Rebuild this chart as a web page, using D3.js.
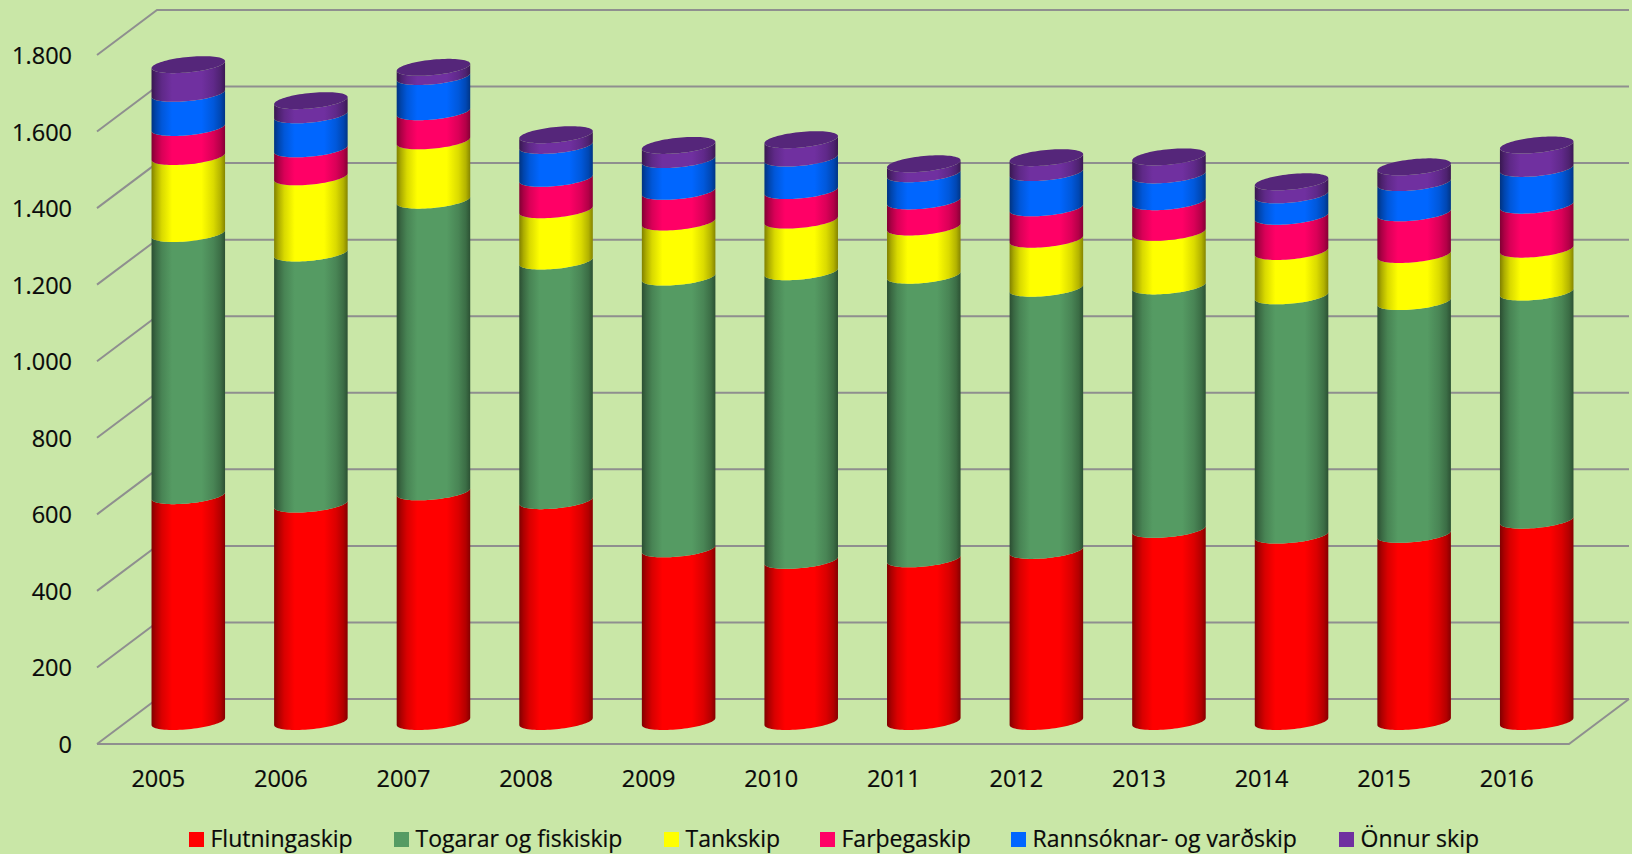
<!DOCTYPE html>
<html>
<head>
<meta charset="utf-8">
<script src="https://cdn.jsdelivr.net/npm/d3@7"></script>
<style>
html,body{margin:0;padding:0;background:#c9e7a7;overflow:hidden}
svg{display:block}
text{font-family:"Open Sans",sans-serif;fill:#0a0a0a;stroke:#0a0a0a;stroke-width:.2px}
</style>
</head>
<body>
<svg id="c" width="1632" height="854"></svg>
<script>
const years = ["2005","2006","2007","2008","2009","2010","2011","2012","2013","2014","2015","2016"];
const flutningaskip = [590,568,600,577,451,421,425,447,502,487,489,526];
const togarar = [685,656,762,626,710,754,741,685,636,625,608,596];
const tankskip = [201,199,155,134,144,135,126,128,140,116,123,112];
const farthegaskip = [76,73,76,82,80,77,68,82,80,92,109,115];
const rannsoknar = [89,89,92,86,83,85,71,92,70,56,79,96];
const onnur = [75,37,24,28,37,48,26,39,47,34,41,61];
const seriesNames = ["Flutningaskip","Togarar og fiskiskip","Tankskip","Farþegaskip","Rannsóknar- og varðskip","Önnur skip"];
const seriesValues = [flutningaskip,togarar,tankskip,farthegaskip,rannsoknar,onnur];
const seriesColors = ["#ff0000","#559b63","#ffff00","#ff0066","#0066ff","#7030a0"];
const topColor = "#55267a";
const yTicks = [0,200,400,600,800,1000,1200,1400,1600,1800];

const svg = d3.select("#c");
const gridColor = "#8f8f8f";
const depthX = 60, depthY = 45;
const yBack = d3.scaleLinear().domain([0,1800]).range([699,10]);
const x = d3.scaleBand().domain(years).range([97,1568]).paddingInner(0.4).paddingOuter(0.2);
const barShift = 30;

// shaded gradient per colour
const defs = svg.append("defs");
const shade = [[0,.5],[.06,.68],[.14,.85],[.28,1],[.68,1],[.84,.86],[.94,.7],[1,.52]];
seriesColors.forEach((c,i)=>{
  const g = defs.append("linearGradient").attr("id","g"+i);
  shade.forEach(([o,f])=>g.append("stop").attr("offset",o)
    .attr("stop-color",d3.interpolateRgb("#000",c)(f)));
});

// walls: grid lines with side wall diagonal
const gridG = svg.append("g").attr("fill","none").attr("stroke",gridColor).attr("stroke-width",2);
yTicks.forEach(v=>{
  gridG.append("path").attr("d",d3.line()([
    [x.range()[0],yBack(v)+depthY],
    [x.range()[0]+depthX,yBack(v)],
    [x.range()[1]+depthX+1,yBack(v)]
  ]));
});
gridG.append("path").attr("d",d3.line()([
  [x.range()[1]+depthX+1,yBack(0)],
  [x.range()[1]+1,yBack(0)+depthY],
  [x.range()[0],yBack(0)+depthY]
]));

// cylinders
const rx = x.bandwidth()/2, shear = 3.5, ry = 7.75, lowOffset = 31, lowFromCentre = 8.5;
const cY = v => yBack(v)+lowOffset-lowFromCentre;
const ang = d3.range(0,41).map(k=>k/40*Math.PI);
const frontArc = (cx,cy,dir) => {
  const pts = ang.map(t=>[cx+rx*Math.cos(t), cy+ry*Math.sin(t)-shear*Math.cos(t)]);
  return dir>0 ? pts : pts.slice().reverse();
};
const line = d3.line();
years.forEach((yr,i)=>{
  const cx = x(yr)+rx+barShift;
  const g = svg.append("g");
  let cum = 0;
  seriesValues.forEach((vals,s)=>{
    const v0 = cum, v1 = cum+vals[i];
    cum = v1;
    // lower arc right->left, then upper arc left->right
    const pts = frontArc(cx,cY(v0),1).concat(frontArc(cx,cY(v1),-1));
    g.append("path").attr("d",line(pts)+"Z").attr("fill",`url(#g${s})`);
  });
  const top = ang.map(t=>[cx+rx*Math.cos(t), cY(cum)+ry*Math.sin(t)-shear*Math.cos(t)])
    .concat(ang.slice(1,-1).map(t=>[cx-rx*Math.cos(t), cY(cum)-ry*Math.sin(t)+shear*Math.cos(t)]));
  g.append("path").attr("d",line(top)+"Z").attr("fill",topColor);
});

// axes
const fmt = d3.formatLocale({decimal:",",thousands:".",grouping:[3],currency:["",""]}).format(",d");
const yFront = d3.scaleLinear().domain(yBack.domain()).range(yBack.range().map(d=>d+depthY));
const ya = svg.append("g").attr("transform","translate(72,1)")
  .call(d3.axisLeft(yFront).tickValues(yTicks).tickFormat(fmt).tickSize(0).tickPadding(0));
ya.select(".domain").remove();
ya.selectAll("text").style("font-size","23.5px").style("font-family",'"Open Sans",sans-serif').attr("fill","#0a0a0a");
const xa = svg.append("g").attr("transform","translate(0,744)")
  .call(d3.axisBottom(x).tickSize(0).tickPadding(0));
xa.select(".domain").remove();
xa.selectAll("text").style("font-size","23.5px").style("font-family",'"Open Sans",sans-serif')
  .attr("fill","#0a0a0a").attr("y",35).attr("dy","0.35em");

// legend
const legendSwatchX = [189,394,664,820,1011,1339];
const lg = svg.append("g");
seriesNames.forEach((n,i)=>{
  lg.append("rect").attr("x",legendSwatchX[i]).attr("y",832).attr("width",15).attr("height",15).attr("fill",seriesColors[i]);
  lg.append("text").attr("x",legendSwatchX[i]+21.5).attr("y",839).attr("dy","0.35em")
    .style("font-size","23px").text(n);
});
</script>
</body>
</html>
